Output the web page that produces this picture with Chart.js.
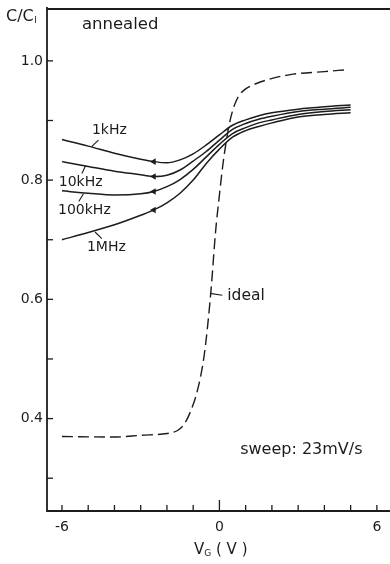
<!DOCTYPE html>
<html>
<head>
<meta charset="utf-8">
<script src="https://cdn.jsdelivr.net/npm/chart.js@4.4.1/dist/chart.umd.min.js"></script>
<style>
  html, body { margin: 0; padding: 0; background: #fff; }
  #wrap { width: 390px; height: 564px; }
</style>
</head>
<body>
<div id="wrap"><canvas id="grafico" width="390" height="564"></canvas></div>
<script>
// gate voltage V_G (V) shared by the measured curves
const gateVoltages = [-6, -5, -4, -3, -2.5, -2, -1.5, -1, -0.5, 0, 0.5, 1, 1.5, 2, 3, 4, 5];
// C/C_I per frequency
const c1kHz   = [0.868, 0.857, 0.845, 0.835, 0.831, 0.829, 0.834, 0.844, 0.859, 0.876, 0.892, 0.901, 0.908, 0.913, 0.919, 0.923, 0.926];
const c10kHz  = [0.831, 0.823, 0.815, 0.809, 0.806, 0.808, 0.817, 0.832, 0.848, 0.867, 0.885, 0.895, 0.902, 0.907, 0.915, 0.919, 0.922];
const c100kHz = [0.782, 0.778, 0.775, 0.777, 0.781, 0.789, 0.801, 0.818, 0.839, 0.860, 0.878, 0.888, 0.896, 0.901, 0.910, 0.915, 0.918];
const c1MHz   = [0.700, 0.712, 0.725, 0.741, 0.750, 0.762, 0.778, 0.800, 0.828, 0.852, 0.872, 0.883, 0.890, 0.896, 0.906, 0.910, 0.913];

// ideal curve (dashed)
const idealVoltages = [-6, -4, -3, -2, -1.6, -1.35, -1.1, -0.85, -0.6, -0.45, -0.3, -0.15, 0, 0.15, 0.35, 0.5, 0.65, 0.8, 1.0, 1.2, 1.8, 2.7, 4, 4.8];
const idealC        = [0.370, 0.369, 0.372, 0.375, 0.380, 0.390, 0.412, 0.445, 0.500, 0.555, 0.626, 0.712, 0.775, 0.832, 0.888, 0.916, 0.934, 0.945, 0.953, 0.958, 0.968, 0.977, 0.982, 0.985];

// sweep direction arrows sit at this voltage
const arrowVoltage = -2.5;

const xTickValues = [-6, -5, -4, -3, -2, -1, 0, 1, 2, 3, 4, 5, 6];
const xTickLabels = { '-6': '-6', '0': '0', '6': '6' };
const yTickValues = [0.3, 0.4, 0.5, 0.6, 0.7, 0.8, 0.9, 1.0];
const yTickLabels = { '0.4': '0.4', '0.6': '0.6', '0.8': '0.8', '1': '1.0' };

const INK = '#1c1c1c';
const FONT = '"DejaVu Sans", sans-serif';

const toPoints = (xs, ys) => xs.map((v, i) => ({ x: v, y: ys[i] }));

function curve(label, values) {
  return {
    label,
    data: toPoints(gateVoltages, values),
    borderColor: INK,
    borderWidth: 1.5,
    cubicInterpolationMode: 'monotone',
    pointStyle: 'triangle',
    rotation: -90,
    pointRadius: c => gateVoltages[c.dataIndex] === arrowVoltage ? 3.8 : 0,
    pointBackgroundColor: INK,
    pointBorderWidth: 0
  };
}

// text labels with their little leader strokes (data units)
const notes = [
  { text: '1kHz',   size: 14, at: [-4.86, 0.883], lead: [[-4.87, 0.856], [-4.61, 0.867]] },
  { text: '10kHz',  size: 14, at: [-6.12, 0.797], lead: [[-5.24, 0.811], [-5.10, 0.824]] },
  { text: '100kHz', size: 14, at: [-6.15, 0.750], lead: [[-5.36, 0.764], [-5.18, 0.777]] },
  { text: '1MHz',   size: 14, at: [-5.05, 0.687], lead: [[-4.74, 0.713], [-4.48, 0.702]] },
  { text: 'ideal',  size: 15.5, at: [0.30, 0.606],  lead: [[-0.36, 0.610], [0.11, 0.607]] },
  { text: 'annealed', size: 16.5, at: [-5.24, 1.060] },
  { text: 'sweep: 23mV/s', size: 16, at: [0.79, 0.348] }
];

const frameAndNotes = {
  id: 'frameAndNotes',
  afterDraw(chart) {
    const { ctx, chartArea: a, scales: { x, y } } = chart;
    const seg = (x1, y1, x2, y2) => { ctx.beginPath(); ctx.moveTo(x1, y1); ctx.lineTo(x2, y2); ctx.stroke(); };
    ctx.save();
    ctx.strokeStyle = INK;
    ctx.fillStyle = INK;

    // axes: left, bottom, top
    ctx.lineWidth = 1.8;
    ctx.beginPath();
    ctx.moveTo(a.left, a.top - 2);
    ctx.lineTo(a.left, a.bottom);
    ctx.lineTo(a.right, a.bottom);
    ctx.stroke();
    seg(a.left, a.top, a.right, a.top);

    // inward tick marks
    ctx.lineWidth = 1.3;
    yTickValues.forEach(v => {
      const py = y.getPixelForValue(v);
      seg(a.left, py, a.left + 6, py);
    });
    xTickValues.forEach(v => {
      const px = x.getPixelForValue(v);
      seg(px, a.bottom, px, a.bottom - (v === 0 ? 11 : 6));
    });

    // annotations
    ctx.textBaseline = 'middle';
    ctx.textAlign = 'left';
    ctx.lineWidth = 1.1;
    notes.forEach(n => {
      ctx.font = n.size + 'px ' + FONT;
      ctx.fillText(n.text, x.getPixelForValue(n.at[0]), y.getPixelForValue(n.at[1]));
      if (n.lead) {
        const [p, q] = n.lead;
        seg(x.getPixelForValue(p[0]), y.getPixelForValue(p[1]), x.getPixelForValue(q[0]), y.getPixelForValue(q[1]));
      }
    });

    // y axis title C/C_I
    ctx.font = '16px ' + FONT;
    ctx.fillText('C/C', 6, 17);
    const w1 = ctx.measureText('C/C').width;
    ctx.font = '9px ' + FONT;
    ctx.fillText('I', 6 + w1 + 0.5, 21);

    // x axis title V_G ( V )
    const cx = x.getPixelForValue(0.05);
    ctx.font = '15px ' + FONT;
    const wV = ctx.measureText('V').width;
    const wRest = ctx.measureText(' ( V )').width;
    ctx.font = '9px ' + FONT;
    const wG = ctx.measureText('G').width;
    const sx = cx - (wV + wG + wRest) / 2;
    const ty = 550;
    ctx.font = '15px ' + FONT;
    ctx.fillText('V', sx, ty);
    ctx.font = '9px ' + FONT;
    ctx.fillText('G', sx + wV, ty + 4);
    ctx.font = '15px ' + FONT;
    ctx.fillText(' ( V )', sx + wV + wG, ty);
    ctx.restore();
  }
};

new Chart(document.getElementById('grafico').getContext('2d'), {
  type: 'line',
  data: {
    datasets: [
      curve('1kHz', c1kHz),
      curve('10kHz', c10kHz),
      curve('100kHz', c100kHz),
      curve('1MHz', c1MHz),
      {
        label: 'ideal',
        data: toPoints(idealVoltages, idealC),
        borderColor: INK,
        borderWidth: 1.4,
        borderDash: [11, 5],
        cubicInterpolationMode: 'monotone',
        pointRadius: 0
      }
    ]
  },
  options: {
    responsive: false,
    animation: false,
    devicePixelRatio: 1,
    events: [],
    layout: { padding: { top: 9, right: 0, bottom: 0, left: 0 } },
    plugins: { legend: { display: false }, tooltip: { enabled: false } },
    scales: {
      x: {
        type: 'linear',
        min: -6.57,
        max: 6.5,
        afterBuildTicks: s => { s.ticks = xTickValues.map(v => ({ value: v })); },
        afterFit: s => { s.height = 53; s.paddingLeft = 0; s.paddingRight = 0; },
        grid: { display: false, drawTicks: false },
        border: { display: false },
        ticks: {
          autoSkip: false,
          maxRotation: 0,
          padding: 8,
          color: INK,
          font: { family: FONT, size: 14 },
          callback: v => xTickLabels[String(v)] || ''
        }
      },
      y: {
        type: 'linear',
        min: 0.245,
        max: 1.087,
        afterBuildTicks: s => { s.ticks = yTickValues.map(v => ({ value: v })); },
        afterFit: s => { s.width = 47; s.paddingTop = 0; s.paddingBottom = 0; },
        grid: { display: false, drawTicks: false },
        border: { display: false },
        ticks: {
          autoSkip: false,
          padding: 4,
          color: INK,
          font: { family: FONT, size: 14 },
          callback: v => yTickLabels[String(v)] || ''
        }
      }
    }
  },
  plugins: [frameAndNotes]
});
</script>
</body>
</html>
